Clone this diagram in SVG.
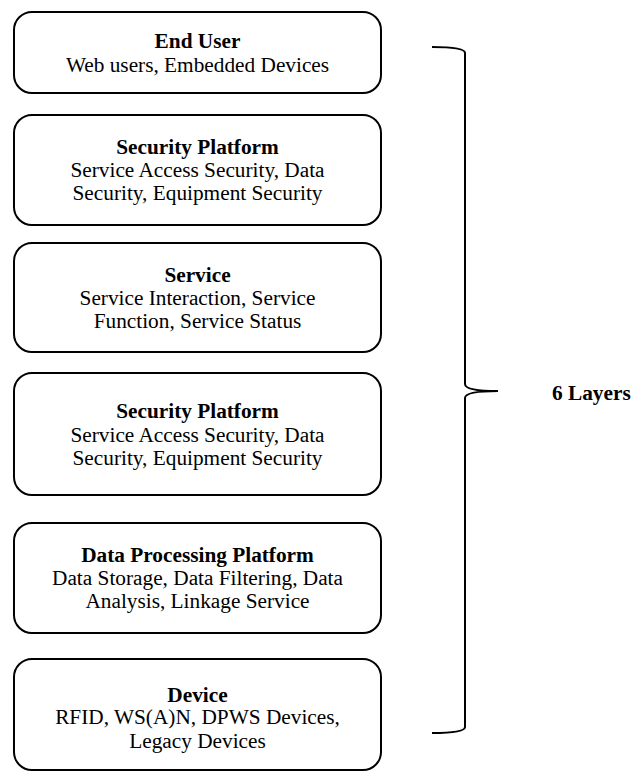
<svg xmlns="http://www.w3.org/2000/svg" width="631" height="772" viewBox="0 0 631 772">
<style>
.box{fill:#fff;stroke:#000;stroke-width:2}
.t{font-weight:bold}
.brace{fill:none;stroke:#000;stroke-width:2}
</style>
<rect width="631" height="772" fill="#fff"/>
<g font-family="Liberation Serif, Times New Roman, serif" font-size="21.3" fill="#000" text-anchor="middle">
<g id="n1"><rect class="box" x="14" y="12" width="367" height="81" rx="18"/>
<text class="t" x="197.5" y="48">End User</text>
<text x="197.5" y="72">Web users, Embedded Devices</text></g>
<g id="n2"><rect class="box" x="14" y="115" width="367" height="110" rx="18"/>
<text class="t" x="197.5" y="154">Security Platform</text>
<text x="197.5" y="177">Service Access Security, Data</text>
<text x="197.5" y="200">Security, Equipment Security</text></g>
<g id="n3"><rect class="box" x="14" y="243" width="367" height="109" rx="18"/>
<text class="t" x="197.5" y="282">Service</text>
<text x="197.5" y="305">Service Interaction, Service</text>
<text x="197.5" y="328">Function, Service Status</text></g>
<g id="n4"><rect class="box" x="14" y="373" width="367" height="122" rx="18"/>
<text class="t" x="197.5" y="418">Security Platform</text>
<text x="197.5" y="442">Service Access Security, Data</text>
<text x="197.5" y="465">Security, Equipment Security</text></g>
<g id="n5"><rect class="box" x="14" y="523" width="367" height="110" rx="18"/>
<text class="t" x="197.5" y="562">Data Processing Platform</text>
<text x="197.5" y="585">Data Storage, Data Filtering, Data</text>
<text x="197.5" y="608">Analysis, Linkage Service</text></g>
<g id="n6"><rect class="box" x="14" y="659" width="367" height="111" rx="18"/>
<text class="t" x="197.5" y="702">Device</text>
<text x="197.5" y="724">RFID, WS(A)N, DPWS Devices,</text>
<text x="197.5" y="748">Legacy Devices</text></g>
<g id="connectors">
<path class="brace" d="M432,47 Q465,47 465,53 L465,384 Q465,391 498,391 Q465,391 465,398 L465,727 Q465,733 432,733"/>
</g>
<g id="label"><text class="t" x="552" y="400" text-anchor="start">6 Layers</text></g>
</g>
</svg>
